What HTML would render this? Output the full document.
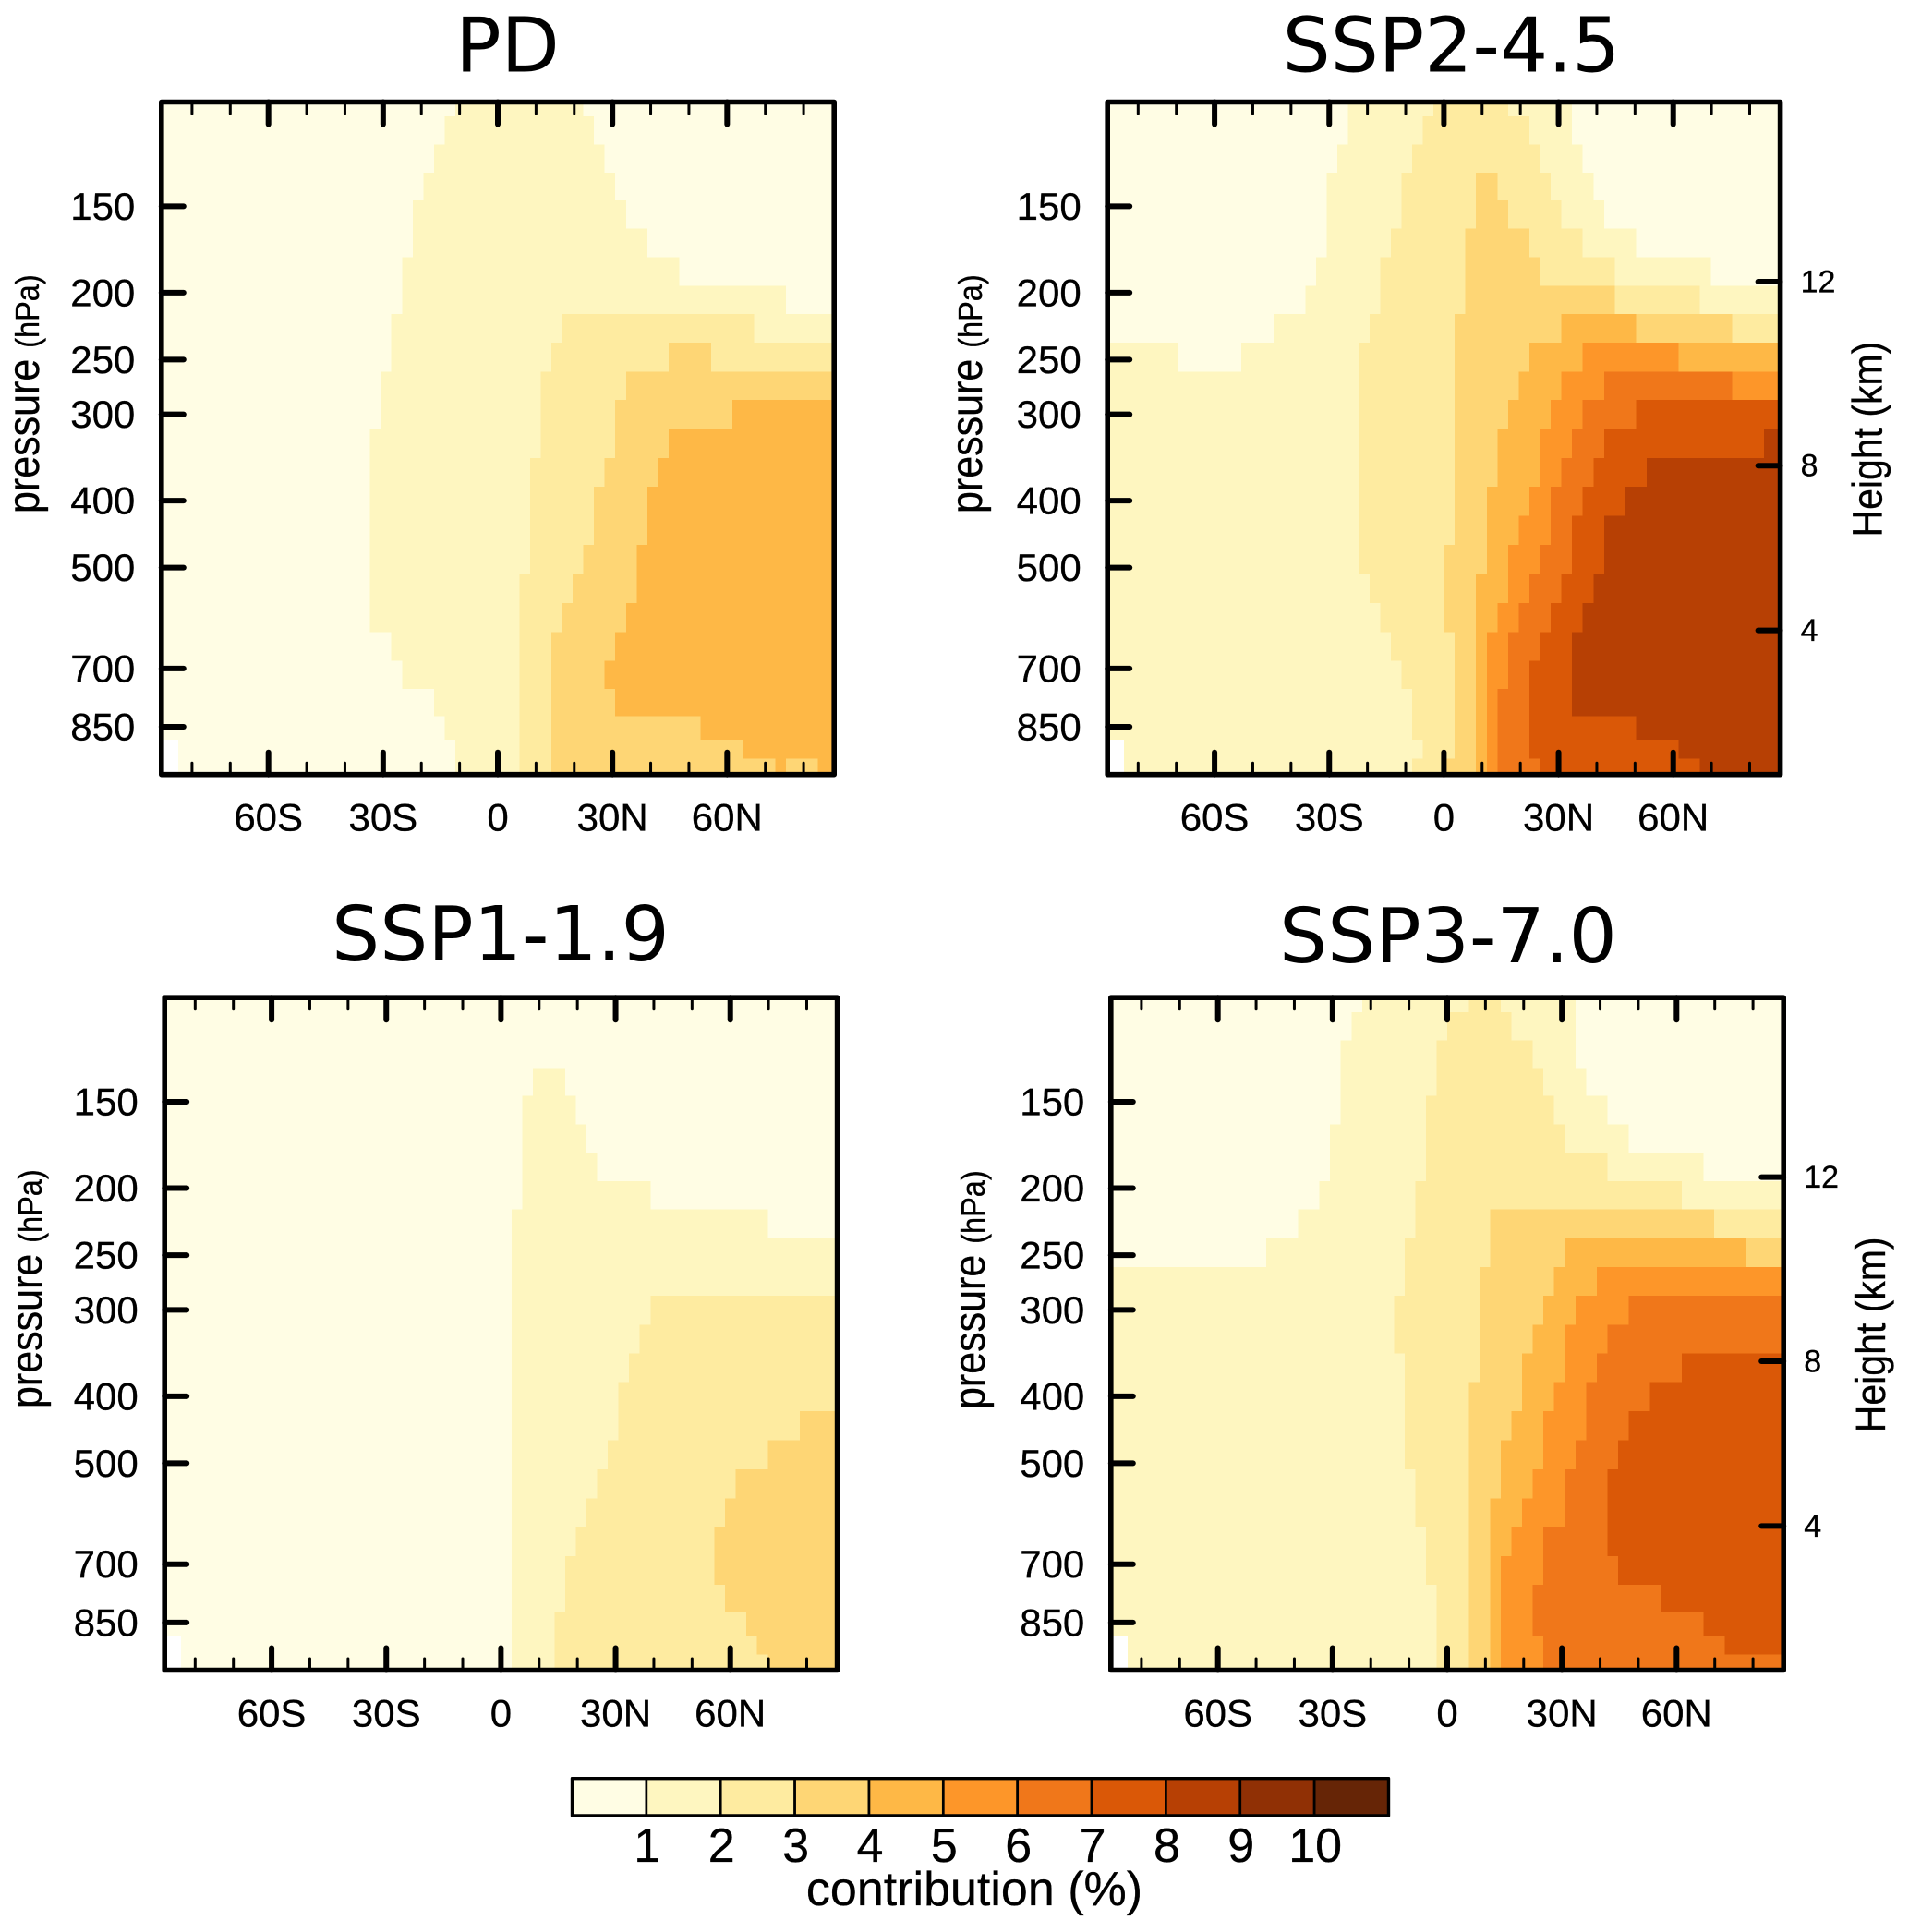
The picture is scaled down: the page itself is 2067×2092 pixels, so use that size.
<!DOCTYPE html>
<html lang="en">
<head>
<meta charset="utf-8">
<title>Contribution by scenario</title>
<style>
html,body{margin:0;padding:0;background:#fff;}
svg{display:block;}
text{font-family:"Liberation Sans",sans-serif;fill:#000;stroke:#000;stroke-width:0.3px;}
.panel-title{font-family:"DejaVu Sans","Liberation Sans",sans-serif;font-size:82px;text-anchor:middle;stroke:none;}
</style>
</head>
<body>
<svg id="figure" xmlns="http://www.w3.org/2000/svg" width="2067" height="2092" viewBox="0 0 2067 2092"></svg>
<script>
// Colour classes: class k means contribution between k and k+1 percent.
const classColors = ["#FFFDE4","#FEF6C0","#FEEBA0","#FED675","#FEB846","#FD9629","#F0771A","#DA5807","#B74004","#903005","#662506"];
const colorbarLabels = ["1","2","3","4","5","6","7","8","9","10"];
const latMajorTicks = [-60,-30,0,30,60];
const latMajorLabels = ["60S","30S","0","30N","60N"];
const latMinorTicks = [-80,-70,-50,-40,-20,-10,10,20,40,50,70,80];
const pressureTicks = [150,200,250,300,400,500,700,850];
const heightTicks = [12,8,4];
// Edges of the model-level rows (hPa), top to bottom.
const rowEdgesHpa = [106,111.2,122.2,134.1,147,161.6,177.7,195.4,214.8,236.2,260.2,286,315.2,347,381.8,420.6,463.4,510.4,562.5,619.6,681.6,749.5,821,887.9,945.8,996.5];
// Each row lists runs as: class, column where the run stops, class, column, ... (columns -1..60, -1 = missing class)
const pdRuns = [
[0,26,1,38,0,61],
[0,25,1,39,0,61],
[0,24,1,40,0,61],
[0,23,1,41,0,61],
[0,22,1,42,0,61],
[0,22,1,44,0,61],
[0,21,1,47,0,61],
[0,21,1,57,0,61],
[0,20,1,36,2,54,1,61],
[0,20,1,35,2,46,3,50,2,61],
[0,19,1,34,2,42,3,61],
[0,19,1,34,2,41,3,52,4,61],
[0,18,1,34,2,41,3,46,4,61],
[0,18,1,33,2,40,3,45,4,61],
[0,18,1,33,2,39,3,44,4,61],
[0,18,1,33,2,39,3,44,4,61],
[0,18,1,33,2,38,3,43,4,61],
[0,18,1,32,2,37,3,43,4,61],
[0,18,1,32,2,36,3,42,4,61],
[0,20,1,32,2,35,3,41,4,61],
[0,21,1,32,2,35,3,40,4,61],
[0,24,1,32,2,35,3,41,4,61],
[0,25,1,32,2,35,3,49,4,61],
[-1,0,0,26,1,32,2,35,3,53,4,61],
[-1,0,0,26,1,32,2,35,3,56,4,57,3,60,4,61]
];
const ssp245Runs = [
[0,21,1,29,2,36,1,42,0,61],
[0,21,1,28,2,38,1,42,0,61],
[0,20,1,27,2,39,1,43,0,61],
[0,19,1,26,2,33,3,35,2,40,1,44,0,61],
[0,19,1,26,2,33,3,36,2,41,1,45,0,61],
[0,19,1,25,2,32,3,38,2,43,1,48,0,61],
[0,18,1,24,2,32,3,39,2,46,1,55,0,61],
[0,17,1,24,2,32,3,46,2,54,1,61],
[0,14,1,23,2,31,3,41,4,48,3,57,2,61],
[1,5,0,11,1,22,2,31,3,38,4,43,5,52,4,61],
[1,22,2,31,3,37,4,41,5,45,6,57,5,61],
[1,22,2,31,3,36,4,40,5,43,6,48,7,61],
[1,22,2,31,3,35,4,39,5,42,6,45,7,60,8,61],
[1,22,2,31,3,35,4,39,5,41,6,44,7,49,8,61],
[1,22,2,31,3,34,4,38,5,40,6,43,7,47,8,61],
[1,22,2,31,3,34,4,37,5,40,6,42,7,45,8,61],
[1,22,2,30,3,34,4,36,5,39,6,42,7,45,8,61],
[1,23,2,30,3,33,4,36,5,38,6,41,7,44,8,61],
[1,24,2,30,3,33,4,35,5,37,6,40,7,43,8,61],
[1,25,2,31,3,33,4,34,5,36,6,39,7,42,8,61],
[1,26,2,31,3,33,4,34,5,36,6,38,7,42,8,61],
[1,27,2,31,3,33,4,34,5,35,6,38,7,42,8,61],
[1,27,2,31,3,33,4,34,5,35,6,38,7,48,8,61],
[-1,0,1,28,2,31,3,33,4,34,5,35,6,38,7,52,8,61],
[-1,0,1,27,2,30,3,33,4,34,5,35,6,39,7,54,8,61]
];
const ssp119Runs = [
[0,61],
[0,61],
[0,61],
[0,33,1,36,0,61],
[0,32,1,37,0,61],
[0,32,1,38,0,61],
[0,32,1,39,0,61],
[0,32,1,44,0,61],
[0,31,1,55,0,61],
[0,31,1,61],
[0,31,1,61],
[0,31,1,44,2,61],
[0,31,1,43,2,61],
[0,31,1,42,2,61],
[0,31,1,41,2,61],
[0,31,1,41,2,58,3,61],
[0,31,1,40,2,55,3,61],
[0,31,1,39,2,52,3,61],
[0,31,1,38,2,51,3,61],
[0,31,1,37,2,50,3,61],
[0,31,1,36,2,50,3,61],
[0,31,1,36,2,51,3,61],
[0,31,1,35,2,53,3,61],
[-1,0,0,31,1,35,2,54,3,61],
[-1,0,0,31,1,35,2,55,3,61]
];
const ssp370Runs = [
[0,22,1,32,2,35,1,42,0,61],
[0,21,1,30,2,36,1,42,0,61],
[0,20,1,29,2,38,1,42,0,61],
[0,20,1,29,2,39,1,43,0,61],
[0,20,1,28,2,40,1,45,0,61],
[0,19,1,28,2,41,1,47,0,61],
[0,19,1,28,2,45,1,54,0,61],
[0,18,1,27,2,52,1,61],
[0,16,1,27,2,34,3,55,2,61],
[0,13,1,26,2,34,3,41,4,58,3,61],
[1,26,2,33,3,40,4,44,5,61],
[1,25,2,33,3,39,4,42,5,47,6,61],
[1,25,2,33,3,38,4,41,5,45,6,61],
[1,26,2,33,3,37,4,41,5,44,6,52,7,61],
[1,26,2,32,3,37,4,40,5,43,6,49,7,61],
[1,26,2,32,3,36,4,39,5,43,6,47,7,61],
[1,26,2,32,3,35,4,39,5,42,6,46,7,61],
[1,27,2,32,3,35,4,38,5,41,6,45,7,61],
[1,27,2,32,3,34,4,37,5,41,6,45,7,61],
[1,28,2,32,3,34,4,36,5,39,6,45,7,61],
[1,28,2,32,3,34,4,35,5,39,6,46,7,61],
[1,29,2,32,3,34,4,35,5,38,6,50,7,61],
[1,29,2,32,3,34,4,35,5,38,6,54,7,61],
[-1,0,1,29,2,32,3,34,4,35,5,39,6,56,7,61],
[-1,0,1,29,2,32,3,34,4,35,5,39,6,61]
];

const SVGNS = "http://www.w3.org/2000/svg";
const svg = document.getElementById("figure");
const LAT_MIN = -88, LAT_MAX = 88, P_TOP = 106, P_BOTTOM = 996.5;

function add(parent, tag, attrs, text) {
  const el = document.createElementNS(SVGNS, tag);
  for (const key in attrs) el.setAttribute(key, attrs[key]);
  if (text !== undefined) el.textContent = text;
  parent.appendChild(el);
  return el;
}
function expandRuns(runs) {
  const values = [];
  for (let i = 0; i < runs.length; i += 2) {
    while (values.length - 1 < runs[i + 1]) values.push(runs[i]);
  }
  return values; // values[c] belongs to column c-1 (column -1 is the leftmost)
}
function columnEdgeLat(k) {
  if (k < 0) return LAT_MIN;
  if (k >= 61) return LAT_MAX;
  return -83.65 + 2.79 * k;
}
function pressureFromHeight(km) {
  return 1013.25 * Math.pow(1 - 2.2558e-5 * km * 1000, 5.2559);
}
function classColor(v) {
  return v < 0 ? "#FFFFFF" : classColors[Math.min(classColors.length - 1, Math.floor(v))];
}

function drawPanel(p) {
  const xScale = lat => p.x0 + (lat - LAT_MIN) / (LAT_MAX - LAT_MIN) * (p.x1 - p.x0);
  const yScale = hpa => p.top + Math.log(hpa / P_TOP) / Math.log(P_BOTTOM / P_TOP) * (p.bottom - p.top);
  const g = add(svg, "g", {});
  
  

  const title = add(g, "text", {class: "panel-title", x: p.titleX, y: p.titleY}, p.title);
  
  

  const cells = add(g, "g", {"shape-rendering": "crispEdges"});
  
  
  p.runs.forEach((runs, r) => {
    const values = expandRuns(runs);
    const y0 = yScale(rowEdgesHpa[r]), y1 = yScale(rowEdgesHpa[r + 1]);
    values.forEach((v, c) => {
      const xa = xScale(columnEdgeLat(c - 1)), xb = xScale(columnEdgeLat(c));
      const cell = add(cells, "rect", {x: xa, y: y0, width: xb - xa, height: y1 - y0, fill: classColor(v)});
      
      
    });
  });

  // x ticks, top and bottom
  latMajorTicks.forEach((lat, i) => {
    const x = xScale(lat);
    const top = add(g, "line", {x1: x, x2: x, y1: p.top, y2: p.top + 24, stroke: "#000", "stroke-width": 6, "stroke-linecap": "round"});
    
    
    const bottom = add(g, "line", {x1: x, x2: x, y1: p.bottom, y2: p.bottom - 24, stroke: "#000", "stroke-width": 6, "stroke-linecap": "round"});
    
    
    const label = add(g, "text", {x: x, y: p.bottom + 61, "font-size": 42, "text-anchor": "middle"}, latMajorLabels[i]);
    
    
  });
  latMinorTicks.forEach(lat => {
    const x = xScale(lat);
    const top = add(g, "line", {x1: x, x2: x, y1: p.top, y2: p.top + 12.5, stroke: "#000", "stroke-width": 3, "stroke-linecap": "round"});
    
    
    const bottom = add(g, "line", {x1: x, x2: x, y1: p.bottom, y2: p.bottom - 12.5, stroke: "#000", "stroke-width": 3, "stroke-linecap": "round"});
    
    
  });

  // pressure axis
  pressureTicks.forEach(hpa => {
    const y = yScale(hpa);
    const tick = add(g, "line", {x1: p.x0, x2: p.x0 + 24, y1: y, y2: y, stroke: "#000", "stroke-width": 6, "stroke-linecap": "round"});
    
    
    const label = add(g, "text", {x: p.x0 - 28.5, y: y + 14.5, "font-size": 42, "text-anchor": "end"}, String(hpa));
    
    
  });
  const yTitle = add(g, "text", {transform: "translate(" + p.yTitleX + "," + p.yTitleY + ") rotate(-90) scale(1,1.12)", "font-size": 43});
  
  
  add(yTitle, "tspan", {}, "pressure ");
  add(yTitle, "tspan", {"font-size": 32.5}, "(hPa)");

  // height axis on the right-hand panels
  if (p.heightAxis) {
    heightTicks.forEach(km => {
      const y = yScale(pressureFromHeight(km));
      const tick = add(g, "line", {x1: p.x1, x2: p.x1 - 24, y1: y, y2: y, stroke: "#000", "stroke-width": 6, "stroke-linecap": "round"});
      
      
      const label = add(g, "text", {x: p.x1 + 22, y: y + 11.5, "font-size": 34}, String(km));
      
      
    });
    const hTitle = add(g, "text", {transform: "translate(" + (p.x1 + 110) + "," + (p.top + 471) + ") rotate(-90) scale(1,1.1)", "font-size": 41}, "Height (km)");
    
    
  }

  const frame = add(g, "rect", {x: p.x0, y: p.top, width: p.x1 - p.x0, height: p.bottom - p.top, fill: "none", stroke: "#000", "stroke-width": 5.6, "stroke-linejoin": "round"});
  
  
}

function drawColorbar() {
  const left = 619.5, right = 1503.5, top = 1925.7, bottom = 1966;
  const width = (right - left) / classColors.length;
  const g = add(svg, "g", {});
  
  
  classColors.forEach((color, i) => {
    const box = add(g, "rect", {x: left + i * width, y: top, width: width, height: bottom - top, fill: color, stroke: "#000", "stroke-width": 2.7});
    
    
  });
  const border = add(g, "rect", {x: left, y: top, width: right - left, height: bottom - top, fill: "none", stroke: "#000", "stroke-width": 3.4, "stroke-linejoin": "round"});
  
  
  colorbarLabels.forEach((text, i) => {
    const label = add(g, "text", {x: left + (i + 1) * width + 1, y: 2016, "font-size": 52, "text-anchor": "middle"}, text);
    
    
  });
  const title = add(g, "text", {x: 1055, y: 2063, "font-size": 52, "text-anchor": "middle"}, "contribution (%)");
  
  
}

drawPanel({key: "pd", title: "PD", runs: pdRuns, x0: 174.8, x1: 903.2, top: 110.5, bottom: 838.7, titleX: 549.5, titleY: 77.5, yTitleX: 42, yTitleY: 556, heightAxis: false});
drawPanel({key: "ssp2-45", title: "SSP2-4.5", runs: ssp245Runs, x0: 1199.2, x1: 1927.6, top: 110.5, bottom: 838.7, titleX: 1571.5, titleY: 77.5, yTitleX: 1063, yTitleY: 556, heightAxis: true});
drawPanel({key: "ssp1-19", title: "SSP1-1.9", runs: ssp119Runs, x0: 178.2, x1: 906.6, top: 1080.2, bottom: 1808.5, titleX: 542, titleY: 1040, yTitleX: 45, yTitleY: 1525, heightAxis: false});
drawPanel({key: "ssp3-70", title: "SSP3-7.0", runs: ssp370Runs, x0: 1202.8, x1: 1931.2, top: 1080.2, bottom: 1808.5, titleX: 1568, titleY: 1042, yTitleX: 1066, yTitleY: 1526, heightAxis: true});
drawColorbar();
</script>
</body>
</html>
